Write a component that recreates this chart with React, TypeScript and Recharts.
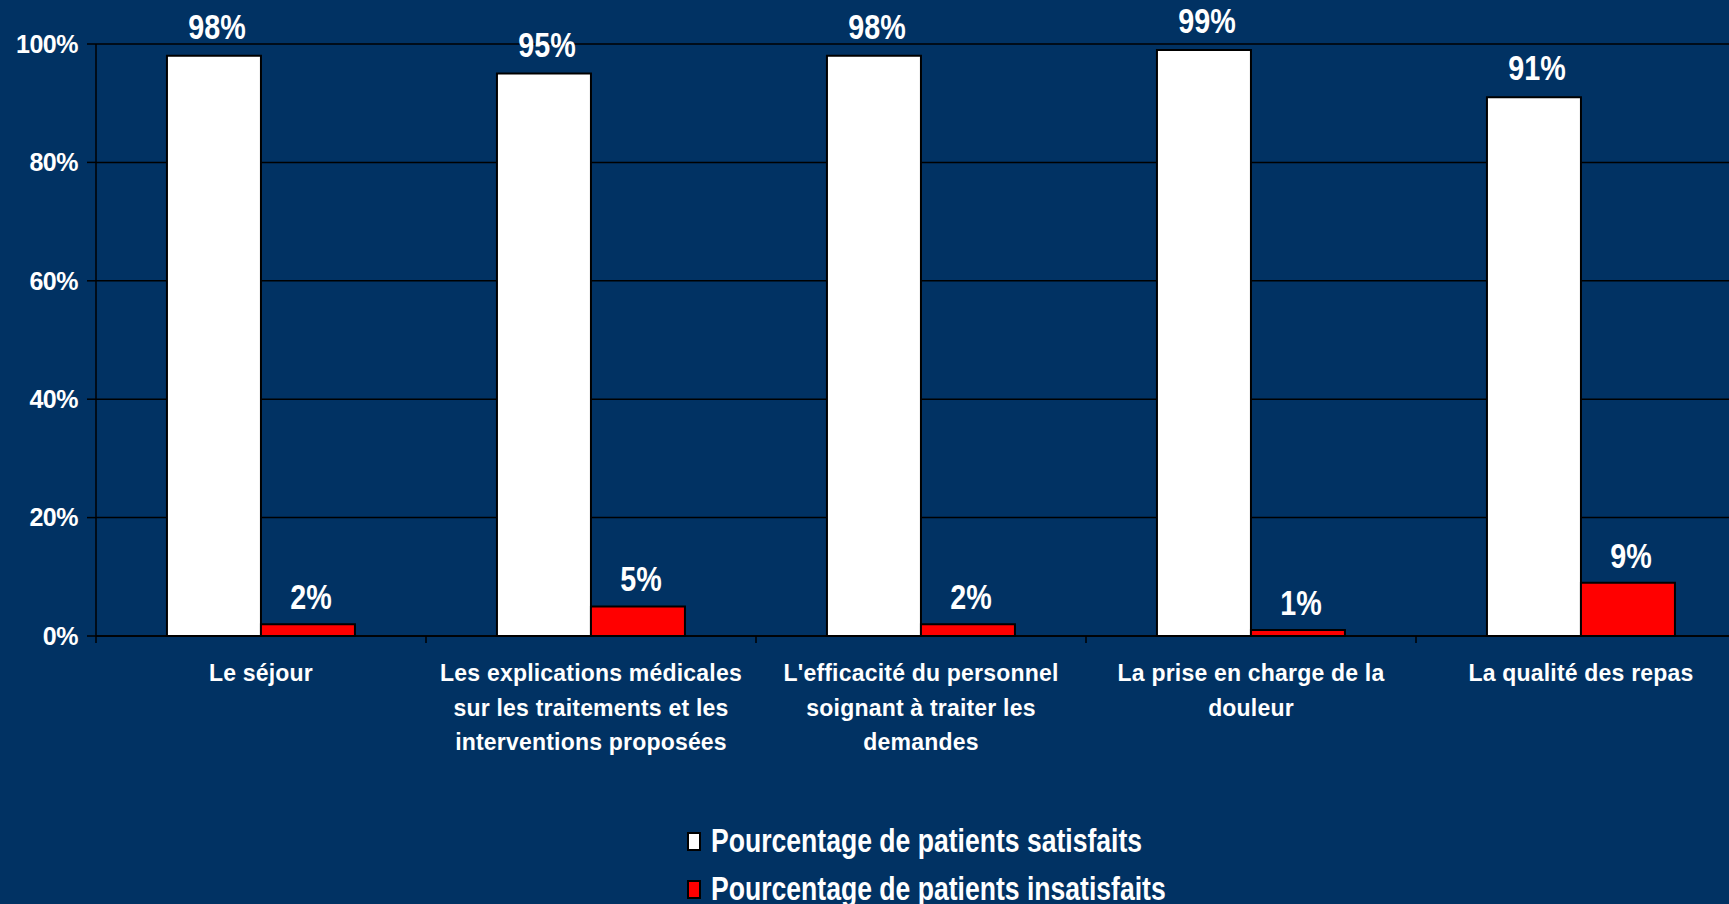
import React from "react";
import { BarChart, Bar, XAxis, YAxis, CartesianGrid, Legend, LabelList } from "recharts";

const categories = [
  "Le séjour",
  "Les explications médicales\nsur les traitements et les\ninterventions proposées",
  "L'efficacité du personnel\nsoignant à traiter les\ndemandes",
  "La prise en charge de la\ndouleur",
  "La qualité des repas",
];
const seriesNames = ["Pourcentage de patients satisfaits", "Pourcentage de patients insatisfaits"];
const satisfaits = [98, 95, 98, 99, 91];
const insatisfaits = [2, 5, 2, 1, 9];
const yTicks = [0, 20, 40, 60, 80, 100];

const data = categories.map((name, i) => ({
  name,
  satisfaits: satisfaits[i],
  insatisfaits: insatisfaits[i],
}));

const BG = "#013263";
const FONT = "'Liberation Sans', Arial, sans-serif";
const NARROW = 0.82;

const CategoryTick = (props: any) => {
  const { x, y, payload } = props;
  const half = payload.offset || 0;
  const lines = String(payload.value).split("\n");
  return (
    <g>
      <line x1={x - half} y1={y - 8} x2={x - half} y2={y - 1} stroke="#000" strokeWidth={1.5} />
      <text
        x={x}
        y={y + 37}
        textAnchor="middle"
        fill="#fff"
        fontFamily={FONT}
        fontWeight="bold"
        fontSize={23}
        letterSpacing={0.2}
      >
        {lines.map((l, i) => (
          <tspan key={i} x={x} dy={i === 0 ? 0 : 34.5}>
            {l}
          </tspan>
        ))}
      </text>
    </g>
  );
};

// narrow bold label above a bar
const BarValue = (props: any) => {
  const { x, y, width, value, gap } = props;
  const cx = Number(x) + Number(width) / 2 + 3;
  return (
    <text
      x={cx}
      y={Number(y) - gap}
      textAnchor="middle"
      fill="#fff"
      fontFamily={FONT}
      fontWeight="bold"
      fontSize={35}
      transform={`translate(${cx} 0) scale(${NARROW} 1) translate(${-cx} 0)`}
    >
      {`${value}%`}
    </text>
  );
};

const LegendBox = (props: any) => {
  const items = [...(props.payload || [])].sort(
    (a: any, b: any) => seriesNames.indexOf(a.value) - seriesNames.indexOf(b.value)
  );
  return (
    <div style={{ fontFamily: FONT }}>
      {items.map((p: any, i: number) => (
        <div key={i} style={{ display: "flex", alignItems: "center", height: 48 }}>
          <span
            style={{
              display: "inline-block",
              width: 10,
              height: 15,
              background: p.payload.fill,
              border: "2px solid #000",
              marginRight: 10,
              flex: "none",
            }}
          />
          <span
            style={{
              display: "inline-block",
              color: "#fff",
              fontWeight: "bold",
              fontSize: 33,
              lineHeight: "34px",
              whiteSpace: "nowrap",
              transform: "scaleX(0.805)",
              transformOrigin: "left center",
            }}
          >
            {p.value}
          </span>
        </div>
      ))}
    </div>
  );
};

export default function App() {
  return (
    <div
      style={{
        position: "absolute",
        left: 0,
        top: 0,
        width: 1729,
        height: 904,
        overflow: "hidden",
        background: BG,
      }}
    >
      <BarChart
        width={1750}
        height={904}
        data={data}
        margin={{ top: 44, right: 4, bottom: 0, left: 0 }}
        barCategoryGap="21.5%"
        barGap={0}
      >
        <CartesianGrid vertical={false} stroke="#000" strokeWidth={1.5} />
        <XAxis
          dataKey="name"
          height={268}
          interval={0}
          axisLine={{ stroke: "#000", strokeWidth: 1.5 }}
          tickLine={false}
          tick={<CategoryTick />}
        />
        <YAxis
          width={96}
          domain={[0, 100]}
          ticks={yTicks}
          interval={0}
          tickFormatter={(v: number) => `${v}%`}
          axisLine={{ stroke: "#000", strokeWidth: 1.5 }}
          tickLine={{ stroke: "#000", strokeWidth: 1.5 }}
          tickSize={9}
          tickMargin={9}
          tick={{ fill: "#fff", fontSize: 25, fontWeight: "bold", fontFamily: FONT, letterSpacing: -0.5 }}
        />
        <Legend
          layout="vertical"
          verticalAlign="middle"
          align="center"
          content={<LegendBox />}
          wrapperStyle={{ position: "absolute", left: 687, top: 817, bottom: "auto", width: 700 }}
        />
        <Bar
          dataKey="satisfaits"
          name={seriesNames[0]}
          fill="#ffffff"
          stroke="#000"
          strokeWidth={2}
          isAnimationActive={false}
        >
          <LabelList dataKey="satisfaits" content={(p: any) => <BarValue {...p} gap={17} />} />
        </Bar>
        <Bar
          dataKey="insatisfaits"
          name={seriesNames[1]}
          fill="#ff0000"
          stroke="#000"
          strokeWidth={2}
          isAnimationActive={false}
        >
          <LabelList dataKey="insatisfaits" content={(p: any) => <BarValue {...p} gap={15} />} />
        </Bar>
      </BarChart>
    </div>
  );
}
